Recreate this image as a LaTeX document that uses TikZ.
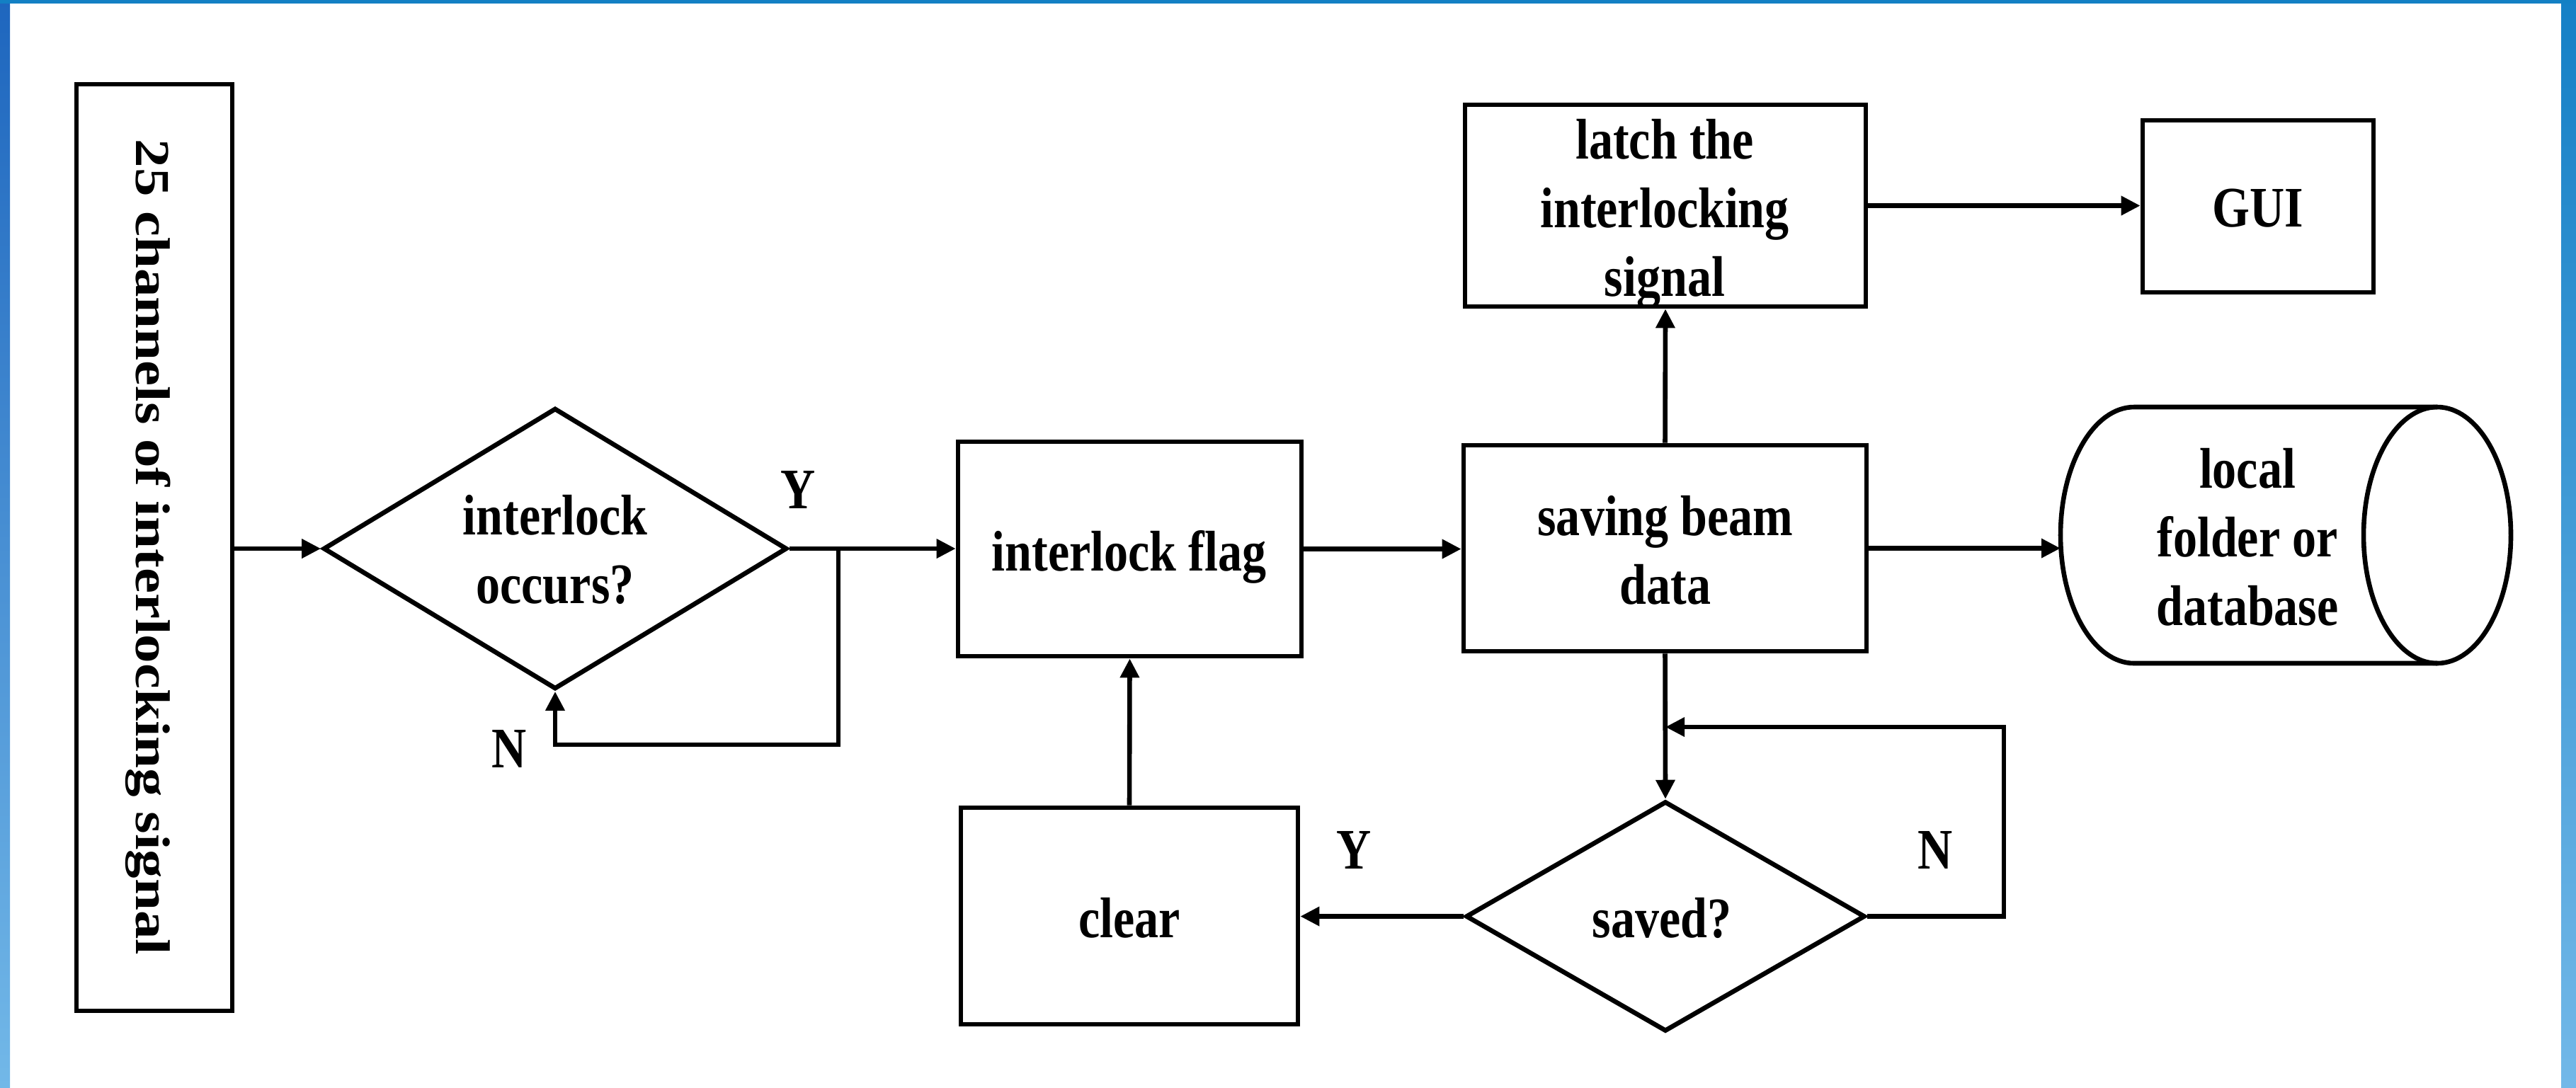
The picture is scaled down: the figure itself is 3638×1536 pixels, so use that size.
\documentclass[tikz,border=0pt]{standalone}
\usepackage{fontspec}
\usepackage{graphicx}
\usetikzlibrary{shapes.geometric,arrows.meta}

% bold serif, slightly condensed for horizontal labels
\newfontfamily\flowfont{Liberation Serif}[UprightFont=* Bold, FakeStretch=0.84]
\newfontfamily\sidefont{Liberation Serif}[UprightFont=* Bold]
\newcommand\flowtext{\flowfont\fontsize{20.25pt}{24.25pt}\selectfont}
\newcommand\sidetext{\sidefont\fontsize{20.25pt}{24.25pt}\selectfont}
\newcommand\pxu{0.25pt}

\definecolor{frametop}{HTML}{1380C4}
\definecolor{leftdark}{HTML}{1E66BE}
\definecolor{leftlight}{HTML}{72B8E8}
\definecolor{rightdark}{HTML}{1580C6}
\definecolor{rightlight}{HTML}{72B8E8}

\tikzset{
  flowline/.style={line width=1.65pt, draw=black},
  arr/.style={flowline, -{Triangle[length=6.75pt,width=6.5pt]}},
  procbox/.style={draw, line width=1.65pt, rectangle, inner sep=0pt},
  decision/.style={draw, line width=1.65pt, diamond, inner sep=0pt},
  txt/.style={font=\flowtext, align=center, inner sep=0pt, outer sep=0pt},
  yn/.style={font=\flowtext, inner sep=0pt},
}

\begin{document}
\begin{tikzpicture}[x=\pxu, y=-\pxu]
  \useasboundingbox (0,0) rectangle (3638,1536);
  % page and coloured frame
  \fill[white] (0,0) rectangle (3638,1536);
  \shade[top color=leftdark, bottom color=leftlight] (0,0) rectangle (14,1536);
  \shade[top color=rightdark, bottom color=rightlight] (3617,0) rectangle (3638,1536);
  \fill[frametop] (0,0) rectangle (3638,5);

  % input box
  \node[procbox, minimum width=220*\pxu, minimum height=1309*\pxu] (src) at (218,773.5) {};
  \node[font=\sidetext, inner sep=0pt, rotate=-90] (srct) at (209,773)
    {\scalebox{1}[0.85]{25 channels of interlocking signal}};

  % first decision
  \node[decision, minimum width=655*\pxu, minimum height=397*\pxu] (dec1) at (784,775) {};
  \node[txt] (dec1t) at (784,776) {interlock\\occurs?};
  \node[yn] (y1) at (1127,692) {Y};
  \node[yn] (n1) at (719,1058) {N};

  % process boxes
  \node[procbox, minimum width=485*\pxu, minimum height=303*\pxu] (flag) at (1595.5,775.5) {};
  \node[txt] (flagt) at (1594.5,786.5) {interlock flag};

  \node[procbox, minimum width=569*\pxu, minimum height=291*\pxu] (save) at (2351.5,774.5) {};
  \node[txt] (savet) at (2352,777) {saving beam\\data};

  \node[procbox, minimum width=566*\pxu, minimum height=285*\pxu] (latch) at (2352,290.5) {};
  \node[txt] (latcht) at (2351,302.5) {latch the\\interlocking\\signal};

  \node[procbox, minimum width=326*\pxu, minimum height=243*\pxu] (gui) at (3189,291.5) {};
  \node[txt] (guit) at (3189,294.5) {GUI};

  \node[procbox, minimum width=476*\pxu, minimum height=306*\pxu] (clear) at (1595,1294) {};
  \node[txt] (cleart) at (1595,1296.5) {clear};

  % second decision
  \node[decision, minimum width=564*\pxu, minimum height=325*\pxu] (saved) at (2352,1294.5) {};
  \node[txt] (savedt) at (2347,1296.5) {saved?};
  \node[yn] (y2) at (1912,1201) {Y};
  \node[yn] (n2) at (2733,1201) {N};

  % storage cylinder
  \node[inner sep=0pt, outer sep=0pt, minimum width=636*\pxu, minimum height=362*\pxu] (db) at (3228,756) {};
  \draw[flowline] ([xshift=-26pt]db.north east) -- ([xshift=26pt]db.north west)
    arc[start angle=90, end angle=270, x radius=26pt, y radius=45.25pt]
    -- ([xshift=-26pt]db.south east);
  \draw[flowline] ([xshift=-26pt]db.east) ellipse[x radius=26pt, y radius=45.25pt];
  \node[txt] (dbt) at (3174,759) {local\\folder or\\database};

  % loop points
  \coordinate (j1) at (1184,775);
  \coordinate (c1) at (1184,1052);
  \coordinate (c2) at (2830,1027);
  \coordinate (j2) at (2352,1027);

  % connectors
  \draw[arr] (src.east |- dec1.west) -- (dec1.west);
  \draw[arr] (dec1.east) -- (flag.west |- dec1.east);
  \draw[arr] (j1) -- (c1) -| (dec1.south);
  \draw[arr] (flag.east) -- (save.west |- flag.east);
  \draw[arr] (save.north) -- (latch.south);
  \draw[arr] (latch.east) -- (gui.west |- latch.east);
  \draw[arr] (save.east) -- (save.east -| db.west);
  \draw[arr] (save.south) -- (saved.north);
  \draw[arr] (saved.east) -| (c2) -- (j2);
  \draw[arr] (saved.west) -- (clear.east |- saved.west);
  \draw[arr] (clear.north) -- (flag.south);
\end{tikzpicture}
\end{document}
